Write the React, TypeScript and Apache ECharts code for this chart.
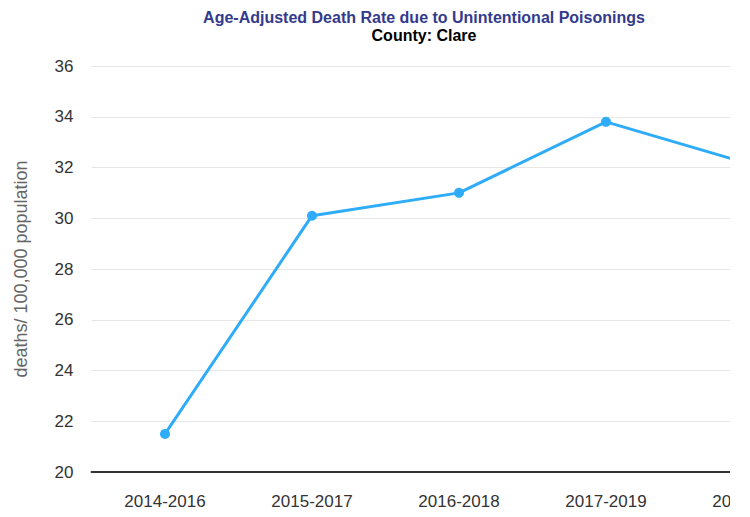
import React, { useEffect, useRef } from "react";
import * as echarts from "echarts";

const categories = ["2014-2016", "2015-2017", "2016-2018", "2017-2019", "2018-2020"];
const rates = [21.5, 30.1, 31.0, 33.8, 32.1];
const titleText = "Age-Adjusted Death Rate due to Unintentional Poisonings";
const subtitleText = "County: Clare";
const yAxisName = "deaths/ 100,000 population";

export default function App() {
  const ref = useRef<HTMLDivElement>(null);
  useEffect(() => {
    if (!ref.current) return;
    const chart = echarts.init(ref.current, null, { renderer: "svg" });
    const font = "Arial, 'Liberation Sans', sans-serif";
    chart.setOption({
      animation: false,
      textStyle: { fontFamily: font },
      title: {
        text: titleText,
        subtext: subtitleText,
        left: "center",
        top: 4,
        itemGap: 2,
        textStyle: { fontFamily: font, fontSize: 16, fontWeight: "bold", color: "#333a8c" },
        subtextStyle: { fontFamily: font, fontSize: 16, fontWeight: "bold", color: "#000" },
      },
      grid: { left: 91.5, right: 21.5, top: 66, bottom: 45 },
      xAxis: {
        type: "category",
        data: categories,
        boundaryGap: true,
        axisLine: { lineStyle: { color: "#333", width: 2 } },
        axisTick: { show: false },
        axisLabel: { color: "#333", fontSize: 17, margin: 21, fontFamily: font },
      },
      yAxis: {
        type: "value",
        min: 20,
        max: 36,
        interval: 2,
        name: yAxisName,
        nameLocation: "middle",
        nameGap: 62,
        nameTextStyle: { color: "#666", fontSize: 18, fontFamily: font },
        axisLine: { show: false },
        axisTick: { show: false },
        axisLabel: { color: "#333", fontSize: 17, margin: 18, fontFamily: font },
        splitLine: { lineStyle: { color: "#e6e6e6", width: 1 } },
      },
      series: [
        {
          type: "line",
          data: rates,
          color: "#2eacf9",
          lineStyle: { width: 3, color: "#2eacf9" },
          symbol: "circle",
          symbolSize: 10,
          itemStyle: { color: "#2eacf9" },
        },
      ],
    });
    return () => chart.dispose();
  }, []);
  return (
    <div style={{ position: "absolute", left: 0, top: 0, width: 730, height: 517, overflow: "hidden", background: "#fff" }}>
      <div ref={ref} style={{ width: 848, height: 517 }} />
    </div>
  );
}
